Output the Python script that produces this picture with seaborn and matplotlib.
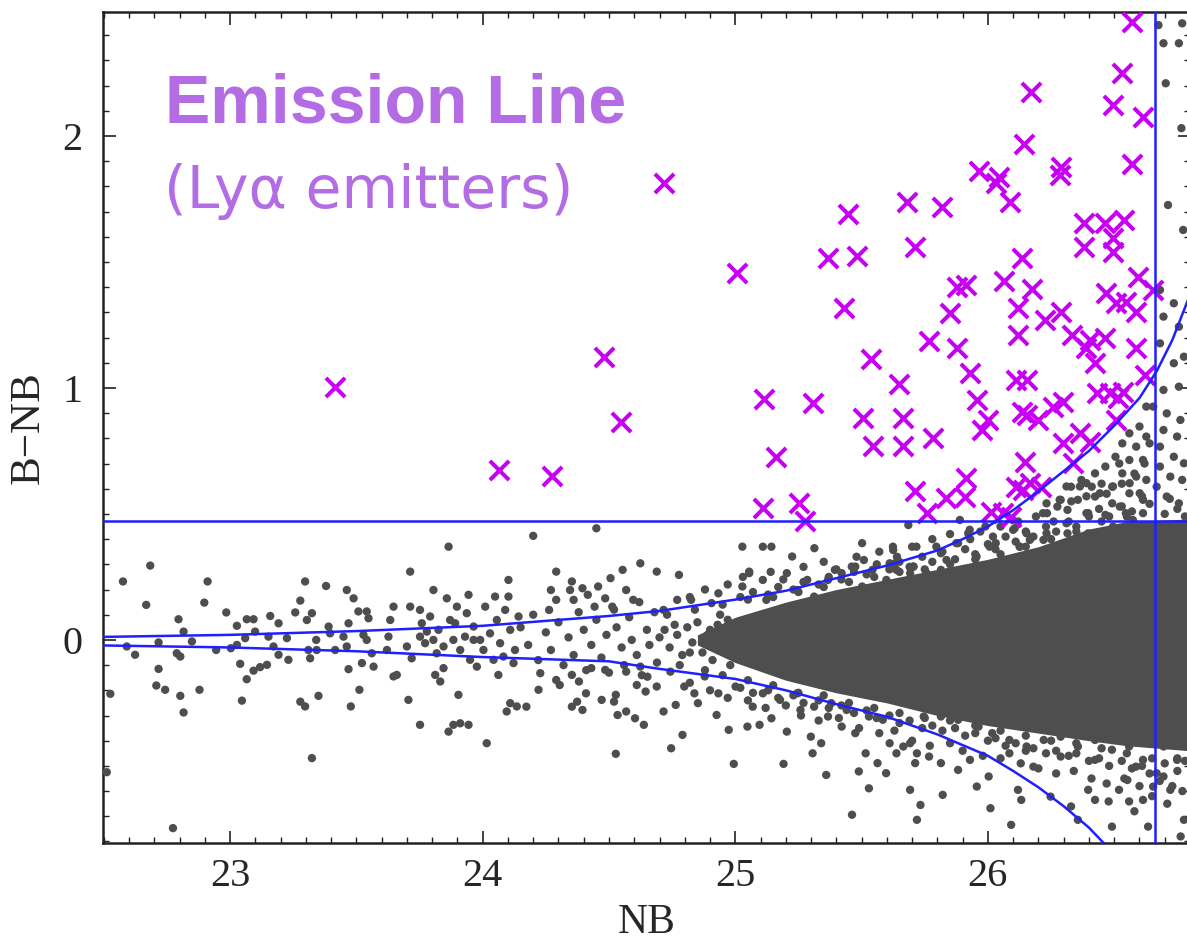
import matplotlib
matplotlib.use("Agg")
import matplotlib.pyplot as plt
from matplotlib.ticker import MultipleLocator
import pandas as pd
import seaborn as sns

# ---------------------------------------------------------------- data
# Bright, sparse field objects (NB, B-NB)
field_bright = [
    (22.576, 0.232), (22.684, 0.295), (22.668, 0.139), (22.796, 0.082), (22.816, 0.033),
    (22.849, -0.006), (22.717, -0.010), (22.591, -0.026), (22.624, -0.059), (22.789, -0.053),
    (22.803, -0.066), (22.717, -0.115), (22.708, -0.181), (22.743, -0.198), (22.803, -0.222),
    (22.816, -0.288), (22.879, -0.198), (22.526, -0.214), (22.512, -0.525), (22.774, -0.747),
    (22.911, 0.232), (22.898, 0.148), (22.985, 0.109), (22.945, -0.040), (23.003, -0.033),
    (23.027, 0.056), (23.040, -0.095), (23.066, 0.082), (23.093, 0.082), (23.099, 0.033),
    (23.060, 0.007), (23.027, -0.020), (23.066, -0.156), (23.093, -0.122), (23.119, -0.108),
    (23.146, -0.099), (23.047, -0.241), (23.159, 0.095), (23.192, 0.066), (23.152, 0.013),
    (23.172, -0.026), (23.192, -0.059), (23.231, -0.079), (23.225, 0.007), (23.258, 0.109),
    (23.278, 0.156), (23.297, 0.232), (23.304, 0.079), (23.324, 0.106), (23.310, -0.040),
    (23.317, -0.073), (23.343, -0.040), (23.341, 0.000), (23.278, -0.245), (23.297, -0.264),
    (23.350, -0.222), (23.324, -0.469), (23.380, 0.214), (23.390, 0.053), (23.396, 0.026),
    (23.416, -0.040), (23.462, 0.198), (23.489, 0.165), (23.469, 0.066), (23.449, 0.013),
    (23.462, -0.026), (23.469, -0.116), (23.508, 0.113), (23.541, 0.113), (23.548, 0.086),
    (23.528, 0.020), (23.541, 0.000), (23.561, -0.053), (23.522, -0.092), (23.568, -0.106),
    (23.512, -0.198), (23.478, -0.264), (23.634, 0.079), (23.647, 0.132), (23.627, 0.013),
    (23.621, -0.040), (23.647, -0.145), (23.660, -0.139), (23.713, 0.271), (23.713, 0.132),
    (23.700, -0.026), (23.719, -0.073), (23.706, -0.238), (23.752, -0.337), (23.752, 0.119),
    (23.759, 0.066), (23.792, 0.093), (23.779, 0.033), (23.805, 0.198), (23.805, 0.000),
    (23.818, -0.053), (23.812, -0.139), (23.832, -0.165), (23.845, -0.112), (23.858, 0.165),
    (23.865, 0.370), (23.871, 0.079), (23.884, 0.000), (23.898, 0.132), (23.904, -0.218),
    (23.865, -0.364), (23.884, -0.337), (23.911, -0.331), (23.944, -0.337), (23.944, 0.179),
    (23.937, 0.106), (23.950, -0.079), (23.977, -0.106), (23.990, 0.000), (24.010, 0.132),
    (24.016, -0.410), (24.049, 0.172), (24.062, -0.139), (24.089, 0.119), (24.095, -0.284),
    (24.109, -0.251), (24.102, 0.238), (24.102, 0.172), (24.135, -0.264), (24.122, -0.092),
    (23.752, 0.013), (23.772, -0.013), (23.825, 0.040), (23.845, -0.026), (23.891, 0.066),
    (23.911, -0.040), (23.930, 0.013), (23.964, 0.053), (24.003, -0.040), (24.029, 0.026),
    (24.056, 0.079), (24.069, -0.013), (24.109, 0.040), (24.128, -0.040), (24.142, 0.093),
    (24.082, -0.066), (24.043, -0.079), (23.964, 0.000),
]

# Intermediate-magnitude objects, NB 24.2 - 25.0
field_mid = [
    (24.200, 0.413), (24.450, 0.443), (24.291, 0.271), (24.270, 0.198), (24.353, 0.232),
    (24.346, 0.198), (24.395, 0.205), (24.416, 0.179), (24.457, 0.212), (24.506, 0.245),
    (24.554, 0.278), (24.568, 0.198), (24.624, 0.304), (24.485, 0.165), (24.513, 0.132),
    (24.596, 0.159), (24.443, 0.132), (24.360, 0.159), (24.291, 0.159), (24.263, 0.119),
    (24.228, -0.132), (24.221, -0.198), (24.305, -0.179), (24.291, -0.159), (24.353, -0.139),
    (24.381, -0.165), (24.409, -0.212), (24.353, -0.265), (24.395, -0.278), (24.374, -0.245),
    (24.471, -0.238), (24.520, -0.245), (24.527, -0.218), (24.534, -0.298), (24.568, -0.284),
    (24.603, -0.311), (24.638, -0.337), (24.527, -0.452), (24.610, -0.179), (24.645, -0.205),
    (24.652, -0.146), (24.624, -0.106), (24.568, -0.126), (24.485, -0.119), (24.430, -0.112),
    (24.173, -0.265),
    (24.15, 0.05), (24.18, -0.02), (24.20, 0.10), (24.22, -0.08), (24.25, 0.03),
    (24.27, -0.04), (24.30, 0.07), (24.32, -0.10), (24.34, 0.01), (24.36, -0.06),
    (24.38, 0.11), (24.40, 0.04), (24.41, -0.12), (24.43, -0.02), (24.45, 0.08),
    (24.47, -0.07), (24.49, 0.02), (24.50, -0.13), (24.52, 0.12), (24.53, 0.05),
    (24.55, -0.03), (24.56, -0.10), (24.58, 0.09), (24.59, 0.00), (24.61, -0.06),
    (24.62, 0.15), (24.63, -0.14), (24.65, 0.04), (24.66, -0.02), (24.68, 0.11),
    (24.69, -0.09), (24.70, 0.01),
    (24.72, 0.04), (24.74, -0.03), (24.77, 0.02), (24.79, -0.06), (24.81, 0.05),
    (24.83, -0.01), (24.85, 0.07), (24.87, -0.05), (24.89, 0.02), (24.91, -0.08),
    (24.93, 0.06), (24.95, -0.02), (24.97, 0.08), (24.99, -0.06), (24.73, 0.10),
    (24.78, -0.10), (24.84, 0.12), (24.88, -0.12), (24.94, 0.10), (24.98, -0.10),
    (24.76, 0.06), (24.82, -0.05), (24.90, 0.04), (24.96, 0.02),
]

# Faint objects around the dense locus
field_faint = [
    (24.689, 0.271), (24.777, 0.258), (25.055, 0.271), (25.285, 0.238),
    (24.716, -0.284), (24.746, -0.430), (24.791, -0.377), (24.764, -0.258), (24.838, -0.212),
    (24.852, -0.251), (24.926, -0.298), (24.974, -0.357), (24.994, -0.492), (25.048, -0.344),
    (25.096, -0.337), (25.143, -0.311), (25.069, -0.265), (25.204, -0.364), (25.191, -0.492),
    (25.299, -0.384), (25.340, -0.410), (25.306, -0.450), (25.360, -0.536), (25.462, -0.694),
    (25.489, -0.522), (25.516, -0.450), (25.529, -0.589), (25.563, -0.489), (25.597, -0.529),
    (25.611, -0.410), (25.475, -0.370), (25.421, -0.344), (25.367, -0.304), (25.258, -0.278),
    (25.001, -0.185), (24.933, -0.212), (24.798, -0.185), (24.689, -0.185), (24.879, -0.145),
    (24.743, -0.126), (25.109, -0.212), (25.177, -0.238), (25.245, -0.212), (25.312, -0.265),
    (25.380, -0.251), (25.441, -0.278), (25.529, -0.304), (25.584, -0.317),
    (24.825, 0.159), (24.933, 0.185), (25.028, 0.212), (25.109, 0.238), (25.204, 0.265),
    (25.245, 0.198), (25.367, 0.238), (25.421, 0.265), (25.475, 0.291), (25.543, 0.278),
    (25.611, 0.304), (24.716, 0.119), (24.770, 0.159), (24.906, 0.146), (25.123, 0.159),
    (25.312, 0.172), (25.502, 0.212), (25.692, 0.265),
    (25.719, -0.450), (25.712, -0.489), (25.665, -0.423), (25.692, -0.410), (25.638, -0.450),
    (25.719, -0.714), (25.733, -0.655), (25.692, -0.595), (25.821, -0.615), (25.814, -0.489),
    (25.767, -0.463), (25.882, -0.516), (25.929, -0.476), (25.956, -0.582), (26.003, -0.542),
    (26.010, -0.668), (26.085, -0.450), (26.092, -0.734), (26.119, -0.595), (26.132, -0.635),
    (26.180, -0.503), (26.248, -0.622), (26.329, -0.661), (26.356, -0.714), (26.397, -0.595),
    (26.424, -0.635), (26.478, -0.641), (26.491, -0.741), (26.519, -0.595), (26.559, -0.641),
    (26.614, -0.635), (26.552, -0.556), (26.586, -0.503), (26.634, -0.741), (26.654, -0.582),
    (26.668, -0.529), (26.695, -0.542), (26.722, -0.595), (26.776, -0.714), (26.763, -0.780),
    (26.424, -0.476), (26.491, -0.436), (26.356, -0.423), (26.288, -0.463), (26.221, -0.397),
    (26.153, -0.423), (26.085, -0.397), (26.017, -0.370), (25.963, -0.344), (25.882, -0.317),
    (25.814, -0.304), (25.746, -0.304), (26.288, -0.384), (26.424, -0.397), (26.559, -0.423),
    (26.614, -0.476), (26.695, -0.423), (26.749, -0.476), (26.736, -0.370),
    (25.719, 0.238), (25.814, 0.278), (25.882, 0.225), (25.949, 0.265), (26.017, 0.212),
    (26.153, 0.291), (26.288, 0.251), (26.424, 0.278),
    (25.625, 0.357), (25.631, 0.304), (25.704, 0.291), (25.598, 0.238), (25.757, 0.265),
    (25.836, 0.317), (25.875, 0.384), (25.882, 0.265), (25.955, 0.331), (25.968, 0.251),
    (26.007, 0.370), (26.020, 0.410), (26.034, 0.291), (26.073, 0.317), (26.100, 0.437),
    (26.126, 0.370), (26.166, 0.397), (26.192, 0.331), (26.218, 0.503), (26.232, 0.423),
    (26.258, 0.357), (26.284, 0.556), (26.311, 0.463), (26.337, 0.397), (26.364, 0.317),
    (26.390, 0.503), (26.416, 0.410), (26.443, 0.582), (26.469, 0.357), (26.495, 0.450),
    (26.522, 0.529), (26.548, 0.370), (26.574, 0.476), (26.601, 0.582), (26.614, 0.331),
    (26.640, 0.410), (26.311, 0.609), (26.390, 0.622), (26.495, 0.609), (25.717, 0.370),
    (25.796, 0.370), (26.106, 0.443), (26.232, 0.542), (26.364, 0.609), (26.561, 0.622),
    (25.928, 0.437), (25.889, 0.476),
    (26.627, 0.926), (26.600, 0.847), (26.560, 0.820), (26.627, 0.807), (26.587, 0.767),
    (26.532, 0.780), (26.614, 0.714), (26.560, 0.714), (26.505, 0.727), (26.465, 0.688),
    (26.532, 0.661), (26.587, 0.648), (26.627, 0.635), (26.424, 0.661), (26.370, 0.635),
    (26.329, 0.608), (26.411, 0.608), (26.492, 0.608), (26.560, 0.582), (26.614, 0.556),
    (26.288, 0.556), (26.356, 0.556), (26.424, 0.569), (26.492, 0.542), (26.234, 0.503),
    (26.315, 0.516), (26.397, 0.503), (26.465, 0.496), (26.546, 0.503), (26.614, 0.503),
    (25.685, 0.456), (25.502, 0.384), (25.624, 0.370), (25.028, 0.370), (25.109, 0.370),
    (25.143, 0.370), (25.313, 0.364), (25.225, 0.331), (25.055, 0.265), (25.394, 0.278),
    (25.461, 0.291), (25.509, 0.317), (25.638, 0.278), (25.706, 0.291), (25.814, 0.344),
    (25.882, 0.384), (25.922, 0.423), (25.990, 0.450), (26.098, 0.476), (26.153, 0.423),
    (26.275, 0.529), (26.031, 0.384), (26.126, 0.370), (26.220, 0.397), (26.315, 0.423),
    (26.397, 0.423), (26.492, 0.437), (26.587, 0.423), (26.695, 0.437), (26.762, 0.423),
]

# Crowded fringe of the locus, above and below its densest part
fringe_upper = [
    (25.02, 0.17), (25.07, 0.19), (25.13, 0.18), (25.17, 0.21), (25.23, 0.20), (25.27, 0.23),
    (25.33, 0.22), (25.37, 0.25), (25.42, 0.24), (25.47, 0.27), (25.52, 0.26), (25.56, 0.30),
    (25.61, 0.28), (25.65, 0.31), (25.69, 0.29), (25.74, 0.33), (25.78, 0.31), (25.82, 0.35),
    (25.87, 0.32), (25.91, 0.36), (25.95, 0.34), (26.00, 0.38), (26.03, 0.36), (26.07, 0.41),
    (26.11, 0.39), (26.15, 0.43), (26.18, 0.41), (26.23, 0.45), (26.27, 0.43), (26.32, 0.47),
    (26.35, 0.45), (26.40, 0.49), (26.44, 0.52), (26.48, 0.49), (26.53, 0.53), (26.57, 0.51),
    (26.61, 0.57), (26.64, 0.54), (26.70, 0.50), (26.75, 0.52), (26.78, 0.49), (26.72, 0.56),
    (24.95, 0.14), (25.05, 0.16), (25.15, 0.17), (25.25, 0.19), (25.35, 0.21), (25.45, 0.23),
    (25.55, 0.25), (25.65, 0.27), (25.75, 0.28), (25.85, 0.30), (25.95, 0.32), (26.05, 0.34),
    (26.15, 0.37), (26.25, 0.40), (26.35, 0.43), (26.45, 0.47), (26.55, 0.49),
    (24.82, 0.17), (24.88, 0.20), (24.97, 0.22), (25.03, 0.25), (25.14, 0.27), (25.19, 0.24),
    (25.27, 0.29), (25.35, 0.31), (25.40, 0.28), (25.48, 0.33), (25.57, 0.35), (25.64, 0.33),
    (25.70, 0.37), (25.78, 0.40), (25.85, 0.42), (25.93, 0.40), (25.97, 0.43), (26.05, 0.45),
    (26.12, 0.47), (26.19, 0.49), (26.26, 0.47), (26.33, 0.55), (26.39, 0.57), (26.47, 0.58),
    (26.53, 0.62), (26.58, 0.66), (26.62, 0.70), (26.64, 0.78), (26.52, 0.70), (26.45, 0.62),
]
fringe_lower = [
    (25.02, -0.19), (25.07, -0.21), (25.13, -0.20), (25.17, -0.23), (25.23, -0.22),
    (25.27, -0.25), (25.33, -0.24), (25.37, -0.27), (25.42, -0.26), (25.47, -0.29),
    (25.52, -0.28), (25.56, -0.31), (25.61, -0.30), (25.65, -0.33), (25.69, -0.32),
    (25.74, -0.35), (25.78, -0.34), (25.82, -0.36), (25.87, -0.35), (25.91, -0.38),
    (25.95, -0.37), (26.00, -0.40), (26.03, -0.39), (26.07, -0.42), (26.11, -0.41),
    (26.15, -0.44), (26.18, -0.43), (26.23, -0.45), (26.27, -0.44), (26.32, -0.46),
    (26.35, -0.45), (26.40, -0.48), (26.44, -0.47), (26.48, -0.50), (26.53, -0.48),
    (26.57, -0.51), (26.61, -0.50), (26.64, -0.53), (26.70, -0.49), (26.75, -0.52),
    (26.78, -0.48), (26.73, -0.58), (26.68, -0.56),
    (24.95, -0.14), (25.05, -0.16), (25.15, -0.18), (25.25, -0.21), (25.35, -0.22),
    (25.45, -0.25), (25.55, -0.27), (25.65, -0.29), (25.75, -0.31), (25.85, -0.32),
    (25.95, -0.34), (26.05, -0.36), (26.15, -0.38), (26.25, -0.40), (26.35, -0.41),
    (26.45, -0.43), (26.55, -0.45), (26.65, -0.47), (26.75, -0.47),
    (24.82, -0.17), (24.90, -0.20), (24.97, -0.23), (25.05, -0.24), (25.12, -0.27),
    (25.20, -0.26), (25.26, -0.30), (25.33, -0.32), (25.41, -0.31), (25.49, -0.35),
    (25.57, -0.37), (25.63, -0.36), (25.70, -0.40), (25.77, -0.42), (25.85, -0.41),
    (25.90, -0.44), (25.98, -0.46), (26.05, -0.47), (26.13, -0.49), (26.20, -0.51),
    (26.27, -0.53), (26.34, -0.52), (26.41, -0.55), (26.47, -0.57), (26.54, -0.55),
    (26.60, -0.58), (26.65, -0.62), (26.71, -0.65), (26.77, -0.60), (26.58, -0.68),
]

# Objects fainter than the NB limit
field_beyond = [
    (26.695, 2.368), (26.756, 2.368), (26.704, 2.209), (26.713, 1.726), (26.773, 1.627),
    (26.675, 2.440), (26.769, 2.447), (26.766, 2.031),
    (26.681, 1.389), (26.736, 1.336), (26.695, 1.283), (26.756, 1.243), (26.681, 1.177),
    (26.736, 1.098), (26.776, 1.124), (26.695, 0.992), (26.756, 1.005), (26.654, 0.926),
    (26.708, 0.899), (26.762, 0.873), (26.695, 0.833), (26.749, 0.807), (26.681, 0.767),
    (26.736, 0.727), (26.776, 0.701), (26.681, 0.688), (26.722, 0.648), (26.769, 0.635),
    (26.668, 0.608), (26.708, 0.569), (26.756, 0.542),
]

# Densest part of the locus: NB and the upper / lower edge in B-NB
core_nb = [24.85, 25.00, 25.20, 25.40, 25.60, 25.80, 26.00, 26.20, 26.40, 26.55, 26.80]
core_hi = [0.02, 0.09, 0.15, 0.20, 0.24, 0.28, 0.32, 0.37, 0.44, 0.47, 0.48]
core_lo = [-0.02, -0.09, -0.16, -0.21, -0.25, -0.30, -0.34, -0.37, -0.40, -0.42, -0.44]

# Selected Lya emitter candidates
lae_pts = [
    (23.416, 1.004), (24.065, 0.675), (24.274, 0.651), (24.481, 1.122), (24.547, 0.866),
    (24.719, 1.812), (25.005, 1.458), (25.112, 0.956), (25.161, 0.727), (25.110, 0.523),
    (25.252, 0.542), (25.275, 0.472), (25.308, 0.942), (25.368, 1.515), (25.447, 1.689),
    (25.480, 1.524), (25.431, 1.319), (25.539, 1.114), (25.504, 0.882), (25.546, 0.770),
    (25.649, 1.015), (25.662, 0.881), (25.662, 0.770), (25.767, 1.188), (25.783, 0.800),
    (25.678, 1.737), (25.711, 1.558), (25.818, 1.719), (25.849, 1.296), (25.876, 1.402),
    (25.915, 1.409), (25.876, 1.158), (25.931, 1.058), (25.955, 0.952), (26.001, 0.873),
    (25.975, 0.833), (25.710, 0.591), (25.757, 0.503), (25.833, 0.562), (25.909, 0.569),
    (25.915, 0.642), (25.964, 1.862), (26.044, 1.838), (26.034, 1.812), (26.087, 1.737),
    (26.170, 2.176), (26.143, 1.968), (26.291, 1.878), (26.285, 1.845), (26.135, 1.517),
    (26.063, 1.426), (26.176, 1.393), (26.119, 1.316), (26.225, 1.270), (26.291, 1.303),
    (26.119, 1.210), (26.113, 1.032), (26.153, 1.032), (26.133, 0.906), (26.153, 0.893),
    (26.199, 0.873), (26.258, 0.926), (26.298, 0.946), (26.146, 0.708), (26.113, 0.608),
    (26.139, 0.595), (26.166, 0.622), (26.212, 0.608), (26.014, 0.509), (26.060, 0.503),
    (26.093, 0.489), (26.331, 1.210), (26.403, 1.190), (26.463, 1.197), (26.390, 1.158),
    (26.588, 1.158), (26.423, 1.098), (26.621, 1.052), (26.430, 0.979), (26.482, 0.979),
    (26.535, 0.985), (26.515, 0.959), (26.509, 0.873), (26.364, 0.823), (26.298, 0.781),
    (26.403, 0.787), (26.337, 0.701), (26.381, 1.656), (26.463, 1.656), (26.539, 1.667),
    (26.495, 1.594), (26.381, 1.558), (26.495, 1.541), (26.594, 1.439), (26.469, 1.376),
    (26.509, 1.336), (26.548, 1.343), (26.588, 1.303), (26.654, 1.389), (26.529, 2.249),
    (26.495, 2.123), (26.612, 2.077), (26.571, 1.888), (26.570, 2.454),
]

# 3-sigma colour-error envelope
upper_nb = [22.5, 23.0, 23.5, 24.0, 24.5, 24.7, 25.0, 25.2, 25.4, 25.6, 25.8, 25.9,
            26.0, 26.1, 26.2, 26.3, 26.4, 26.5, 26.6, 26.67, 26.73, 26.80]
upper_bnb = [0.012, 0.020, 0.035, 0.056, 0.095, 0.115, 0.160, 0.195, 0.245, 0.295, 0.355, 0.400,
             0.450, 0.515, 0.590, 0.670, 0.750, 0.850, 0.960, 1.070, 1.190, 1.370]
lower_nb = [22.5, 23.0, 23.5, 24.0, 24.5, 24.7, 25.0, 25.2, 25.4, 25.6, 25.8,
            26.0, 26.1, 26.2, 26.3, 26.4, 26.5]
lower_bnb = [-0.022, -0.030, -0.045, -0.068, -0.085, -0.115, -0.155, -0.200, -0.255, -0.305, -0.375,
             -0.460, -0.520, -0.585, -0.660, -0.745, -0.850]

color_cut = 0.47
nb_limit = 26.66

x_ticks = [23, 24, 25, 26]
y_ticks = [0, 1, 2]

# ---------------------------------------------------------------- style
GREY = "#4e4e4e"
BLUE = "#1f1fff"
MAGENTA = "#c600f2"
LILAC = "#b36ce3"

sns.set_theme(style="ticks")
plt.rcParams["font.family"] = ["Liberation Serif", "DejaVu Serif"]

fig = plt.figure(figsize=(11.87, 9.44), dpi=100)
ax = fig.add_axes([103 / 1187, 101 / 944, 1087 / 1187, 831 / 944])

field = pd.DataFrame(field_bright + field_mid + field_faint + fringe_upper
                     + fringe_lower + field_beyond, columns=["NB", "BNB"])
lae = pd.DataFrame(lae_pts, columns=["NB", "BNB"])

ax.fill_between(core_nb, core_lo, core_hi, color=GREY, lw=0, zorder=2)
sns.scatterplot(data=field, x="NB", y="BNB", color=GREY, s=36, edgecolor="none",
                ax=ax, zorder=3, legend=False)

sns.scatterplot(data=lae, x="NB", y="BNB", marker="x", color=MAGENTA, s=190,
                linewidth=2.9, ax=ax, zorder=4, legend=False)

sns.lineplot(x=upper_nb, y=upper_bnb, color=BLUE, lw=1.8, estimator=None, sort=False,
             ax=ax, zorder=6)
sns.lineplot(x=lower_nb, y=lower_bnb, color=BLUE, lw=1.8, estimator=None, sort=False,
             ax=ax, zorder=6)
ax.axhline(color_cut, color=BLUE, lw=1.8, zorder=6)
ax.axvline(nb_limit, color=BLUE, lw=1.8, zorder=6)

ax.set_xlim(22.497, 26.80)
ax.set_ylim(-0.806, 2.492)
ax.set_xticks(x_ticks)
ax.set_yticks(y_ticks)
ax.xaxis.set_minor_locator(MultipleLocator(0.1))
ax.yaxis.set_minor_locator(MultipleLocator(0.1))
ax.tick_params(which="both", direction="in", top=True, right=True, color="#222222")
ax.tick_params(which="major", length=9, width=1.2)
ax.tick_params(which="minor", length=4.5, width=1.0)
ax.tick_params(axis="x", which="major", labelsize=29, pad=11)
ax.tick_params(axis="y", which="major", labelsize=29, pad=15)
for side in ax.spines.values():
    side.set_linewidth(1.8)
    side.set_color("#222222")

ax.set_xlabel("NB", fontsize=30, labelpad=6)
ax.set_ylabel("B\u2212NB", fontsize=31, labelpad=10)

ax.text(22.743, 2.053, "Emission Line", fontsize=49, fontweight="bold", color=LILAC,
        family=["Liberation Sans", "DejaVu Sans"], ha="left", va="baseline", zorder=7)
ax.text(22.739, 1.713, "(Ly\u03b1 emitters)", fontsize=42, color=LILAC,
        family=["DejaVu Sans"], ha="left", va="baseline", zorder=7)

fig.savefig("out.png", dpi=100)
